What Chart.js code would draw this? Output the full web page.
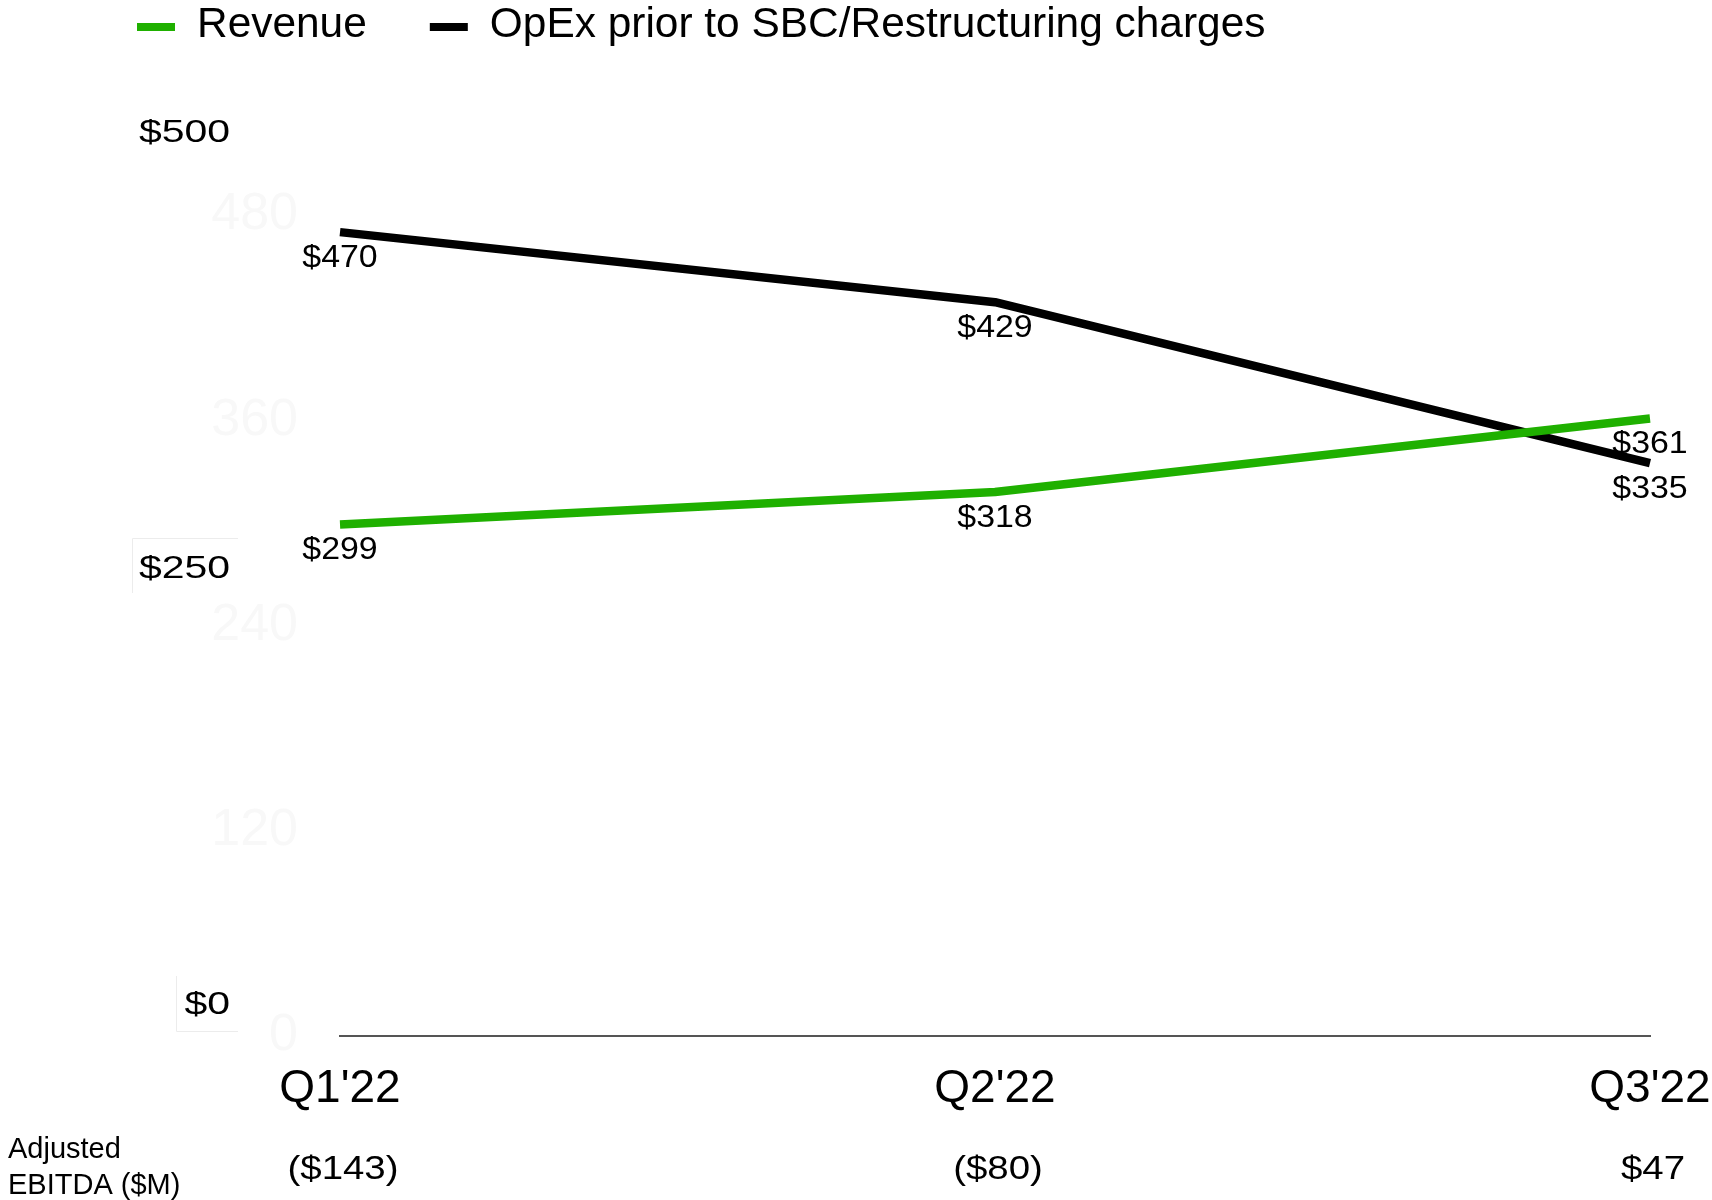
<!DOCTYPE html>
<html>
<head>
<meta charset="utf-8">
<script src="https://cdn.jsdelivr.net/npm/chart.js@4.4.0/dist/chart.umd.min.js"></script>
<style>
    html, body { margin: 0; padding: 0; background: #fff; }
    canvas { display: block; }
</style>
</head>
<body>
<canvas id="chart" width="1712" height="1200"></canvas>
<script>
var quarters = ["Q1'22", "Q2'22", "Q3'22"];
var revenue = [299, 318, 361];
var opex = [470, 429, 335];
var ebitda = ["($143)", "($80)", "$47"];
var yTicks = [0, 120, 240, 360, 480];
var sideLabels = ["$500", "$250", "$0"];

var FONT = "'Liberation Sans', Arial, Helvetica, sans-serif";
Chart.defaults.font.family = FONT;

// text that is a bit wider than the font, as in the picture
var wideText = function (ctx, text, x, y, sx, align) {
    ctx.save();
    ctx.translate(x, y);
    ctx.scale(sx, 1);
    ctx.textAlign = align;
    ctx.textBaseline = 'middle';
    ctx.fillText(text, 0, 0);
    ctx.restore();
};

var legendPlugin = {
    id: 'topLegend',
    afterDraw: function (chart) {
        var ctx = chart.ctx;
        var x = 137;
        ctx.save();
        ctx.font = "42px " + FONT;
        chart.data.datasets.forEach(function (ds) {
            ctx.fillStyle = ds.borderColor;
            ctx.fillRect(x, 23, 38, 8);
            ctx.fillStyle = '#000';
            wideText(ctx, ds.label, x + 60, 25, 1.01, 'left');
            x += 60 + ctx.measureText(ds.label).width * 1.01 + 63;
        });
        ctx.restore();
    }
};

var labelsPlugin = {
    id: 'extraLabels',
    afterDraw: function (chart) {
        var ctx = chart.ctx;
        var xs = chart.scales.x;
        ctx.save();
        ctx.fillStyle = '#000';

        // point values under each point
        ctx.font = "32px " + FONT;
        chart.data.datasets.forEach(function (ds, i) {
            chart.getDatasetMeta(i).data.forEach(function (pt, j) {
                wideText(ctx, '$' + ds.data[j], pt.x, pt.y + 26, 1.06, 'center');
            });
        });

        // pasted axis labels on the left
        ctx.strokeStyle = '#ececec';
        ctx.lineWidth = 1;
        ctx.beginPath();
        ctx.moveTo(238, 538.5); ctx.lineTo(132.5, 538.5); ctx.lineTo(132.5, 593);
        ctx.moveTo(176.5, 976); ctx.lineTo(176.5, 1031.5); ctx.lineTo(238, 1031.5);
        ctx.stroke();
        var sideY = [133, 569, 1005];
        ctx.font = "32px " + FONT;
        sideLabels.forEach(function (t, i) {
            wideText(ctx, t, 230, sideY[i], 1.28, 'right');
        });

        // Adjusted EBITDA row
        ctx.font = "29px " + FONT;
        ctx.textAlign = 'left';
        ctx.textBaseline = 'middle';
        ctx.fillText('Adjusted', 8, 1150);
        ctx.fillText('EBITDA ($M)', 8, 1186);
        ctx.font = "34px " + FONT;
        ebitda.forEach(function (t, i) {
            wideText(ctx, t, xs.getPixelForValue(i) + 3, 1170, 1.13, 'center');
        });
        ctx.restore();
    }
};

var ctx = document.getElementById('chart');
var chart = new Chart(ctx, {
    type: 'line',
    data: {
        labels: quarters,
        datasets: [
            {
                label: 'Revenue',
                data: revenue,
                borderColor: '#1fb000',
                backgroundColor: '#1fb000',
                borderWidth: 8.5,
                pointRadius: 0,
                tension: 0,
                borderCapStyle: 'butt',
                borderJoinStyle: 'round',
                fill: false
            },
            {
                label: 'OpEx prior to SBC/Restructuring charges',
                data: opex,
                borderColor: '#000000',
                backgroundColor: '#000000',
                borderWidth: 8.5,
                pointRadius: 0,
                tension: 0,
                borderCapStyle: 'butt',
                borderJoinStyle: 'round',
                fill: false
            }
        ]
    },
    options: {
        responsive: false,
        animation: false,
        layout: { padding: { top: 215, right: 62, bottom: 0, left: 0 } },
        plugins: {
            legend: { display: false },
            tooltip: { enabled: false }
        },
        scales: {
            x: {
                grid: { display: false, drawTicks: false },
                border: { display: true, color: '#555555', width: 2 },
                // tall line height keeps the labels low without adding side padding
                ticks: { color: '#000', font: { size: 46, lineHeight: 2.33 }, padding: 0, maxRotation: 0, autoSkip: false },
                afterFit: function (scale) { scale.height = 164; }
            },
            y: {
                min: 0,
                max: 480,
                grid: { display: false, drawTicks: false },
                border: { display: false },
                ticks: { color: '#f8f8f8', font: { size: 52 }, padding: 42 },
                afterBuildTicks: function (scale) {
                    scale.ticks = yTicks.map(function (v) { return { value: v }; });
                },
                afterFit: function (scale) { scale.width = 340; }
            }
        }
    },
    plugins: [legendPlugin, labelsPlugin]
});
</script>
</body>
</html>
